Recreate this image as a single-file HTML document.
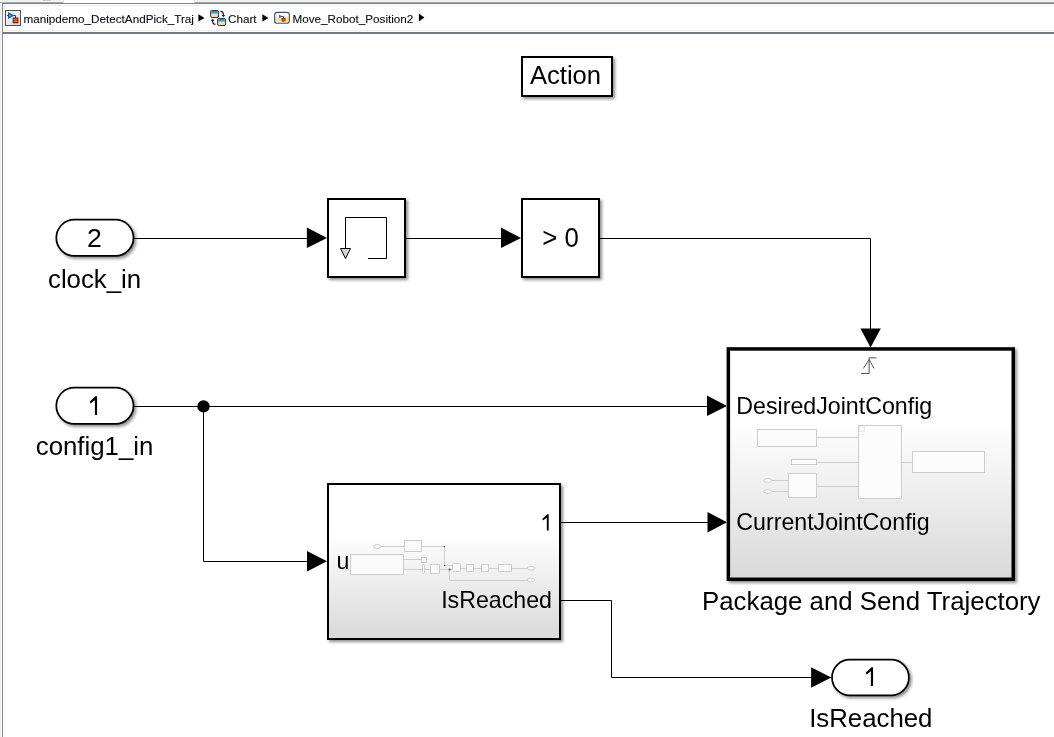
<!DOCTYPE html>
<html><head><meta charset="utf-8">
<style>
html,body{margin:0;padding:0;background:#fff;width:1054px;height:737px;overflow:hidden}
body{position:relative;font-family:"Liberation Sans",sans-serif}
svg{position:absolute;left:0;top:0;will-change:transform}
</style></head>
<body>
<svg width="1054" height="737" viewBox="0 0 1054 737" font-family="Liberation Sans, sans-serif">
<defs>
  <filter id="sh" x="-10%" y="-10%" width="130%" height="130%">
    <feDropShadow dx="2" dy="2" stdDeviation="1.6" flood-color="#000" flood-opacity="0.44"/>
  </filter>
  <linearGradient id="g1" x1="0" y1="0" x2="0" y2="1">
    <stop offset="0" stop-color="#ffffff"/>
    <stop offset="0.31" stop-color="#ffffff"/>
    <stop offset="1" stop-color="#d9d9d9"/>
  </linearGradient>
</defs>
<!-- window chrome -->
<rect x="0" y="0" width="1054" height="1" fill="#efefef"/>
<rect x="0" y="1" width="1054" height="1" fill="#f4f4f4"/>
<rect x="0" y="2" width="1054" height="1" fill="#a6a6a6"/>
<rect x="64" y="0" width="130" height="3" fill="#ffffff"/>
<rect x="63" y="0" width="1" height="3" fill="#dedede"/>
<rect x="194" y="0" width="1" height="3" fill="#dedede"/>
<rect x="43" y="0" width="8" height="1" fill="#c3cbd6"/>
<rect x="2" y="3" width="1052" height="1" fill="#7b8089"/>
<rect x="0" y="3" width="1" height="734" fill="#f0f0f0"/>
<rect x="1" y="3" width="1" height="734" fill="#f6f6f6"/>
<rect x="2" y="3" width="1" height="734" fill="#858a94"/>
<rect x="4" y="5" width="1050" height="1" fill="#eeeeee"/>
<rect x="4" y="5" width="1" height="26" fill="#eeeeee"/>
<rect x="4" y="30" width="1050" height="1" fill="#eeeeee"/>
<rect x="3" y="32" width="1051" height="2" fill="#737884"/>

<!-- breadcrumb -->
<g id="bc">
<rect x="4" y="6" width="1" height="24" fill="#ececec"/>
<g font-size="11.7" fill="#0a0a1a" stroke="#0a0a1a" stroke-width="0.1">
  <text x="23.5" y="22.5">manipdemo_DetectAndPick_Traj</text>
  <text x="228" y="22.5">Chart</text>
  <text x="292.5" y="22.5">Move_Robot_Position2</text>
</g>
<path d="M198.4 14.2 L204.6 17.9 L198.4 21.6 Z" fill="#000"/>
<path d="M262.4 14.2 L268.4 17.9 L262.4 21.6 Z" fill="#000"/>
<path d="M418.9 13.6 L424.4 17.5 L418.9 21.4 Z" fill="#000"/>
<defs>
  <linearGradient id="ic1" x1="0" y1="0" x2="1" y2="1"><stop offset="0" stop-color="#ffffff"/><stop offset="1" stop-color="#d6d6d6"/></linearGradient>
  <linearGradient id="ic3" x1="0" y1="0" x2="0" y2="1"><stop offset="0" stop-color="#ffffff"/><stop offset="0.25" stop-color="#fffdf5"/><stop offset="0.6" stop-color="#f2d98a"/><stop offset="1" stop-color="#fff6d8"/></linearGradient>
</defs>
<!-- model icon -->
<rect x="5.5" y="10.5" width="15" height="15" fill="url(#ic1)" stroke="#505050" stroke-width="1"/>
<path d="M7 15.5 H8.5" stroke="#555" stroke-width="1"/>
<path d="M13.5 15.5 H15.5 V18.5" stroke="#3a3a3a" stroke-width="1" fill="none"/>
<path d="M8 12 L14.3 15.5 L8 19 Z" fill="#1a5cb8"/>
<path d="M9.2 14.2 L11.8 15.5 L9.2 16.8 Z" fill="#4aa8e0"/>
<rect x="13.1" y="18" width="4.8" height="4.8" fill="#d9601c" stroke="#6e0a0a" stroke-width="0.9"/>
<!-- chart icon -->
<g stroke="#2e2e2e" stroke-width="1">
  <rect x="210.6" y="10.5" width="8" height="7" rx="1.6" fill="#f0ddb0"/>
  <rect x="217.6" y="18.5" width="8" height="7" rx="1.6" fill="#f0ddb0"/>
</g>
<rect x="211.2" y="11.1" width="6.8" height="2.4" rx="1" fill="#2a9ad8"/>
<rect x="218.2" y="19.1" width="6.8" height="2.4" rx="1" fill="#2a9ad8"/>
<g stroke="#1a1a1a" stroke-width="1.2" fill="none">
  <path d="M220.3 11.4 Q223.4 11.4 223.4 15"/>
  <path d="M215.4 24.4 Q212.6 24.4 212.6 21"/>
</g>
<path d="M221.5 15 L225.3 15 L223.4 17.2 Z" fill="#1a1a1a"/>
<path d="M210.7 21 L214.5 21 L212.6 18.8 Z" fill="#1a1a1a"/>
<!-- state icon -->
<rect x="274.6" y="12.4" width="14.8" height="10.9" rx="2.6" fill="url(#ic3)" stroke="#3d5577" stroke-width="1.1"/>
<path d="M281.5 16.4 H283.5 V18.6" stroke="#333" stroke-width="0.9" fill="none"/>
<path d="M279 14.8 L282.5 16.4 L279 18 Z" fill="#1e6cc8"/>
<rect x="282" y="18.3" width="3" height="2.8" fill="#e07020" stroke="#8a1a0a" stroke-width="0.8"/>
</g>

<!-- signal lines -->
<g stroke="#000" stroke-width="1" fill="none">
  <path d="M134 238.5 H308"/>
  <path d="M406 238.5 H502"/>
  <path d="M600 238.5 H870.5 V330"/>
  <path d="M134 406.5 H708"/>
  <path d="M203.5 406.5 V561.5 H308"/>
  <path d="M561 522.5 H708"/>
  <path d="M561 600.5 H611.5 V677.5 H812"/>
</g>
<g fill="#000">
  <path d="M306.9 227.6 L327 237.9 L306.9 248.1 Z"/>
  <path d="M501 227.6 L521 237.9 L501 248.1 Z"/>
  <path d="M860.4 328.5 L880.8 328.5 L870.6 347.6 Z"/>
  <path d="M707 395.6 L727 405.9 L707 416.1 Z"/>
  <path d="M307 550.9 L327 561.2 L307 571.4 Z"/>
  <path d="M707.5 511.9 L727 522.2 L707.5 532.4 Z"/>
  <path d="M811.1 667.3 L831.3 677.5 L811.1 687.7 Z"/>
  <circle cx="203.5" cy="406.4" r="6.2"/>
</g>

<!-- Action box -->
<rect x="522" y="57" width="90" height="39" fill="#fff" stroke="#000" stroke-width="2" filter="url(#sh)"/>
<text x="565.5" y="84" font-size="25.6" text-anchor="middle">Action</text>

<!-- inports -->
<rect x="56.3" y="219.7" width="77.2" height="36.2" rx="18.1" fill="#fff" stroke="#000" stroke-width="1.75" filter="url(#sh)"/>
<text x="94.3" y="246.8" font-size="26.6" text-anchor="middle">2</text>
<text x="94.6" y="287.5" font-size="25.8" text-anchor="middle">clock_in</text>

<rect x="56.3" y="387.7" width="77.2" height="36.2" rx="18.1" fill="#fff" stroke="#000" stroke-width="1.75" filter="url(#sh)"/>
<path d="M97.05 396.20 V414.90 H94.90 V400.20 L90.45 403.50 L89.85 401.60 L95.45 396.20 Z" fill="#000"/>
<text x="94.6" y="454.7" font-size="25.8" text-anchor="middle">config1_in</text>

<!-- memory block -->
<rect x="328" y="199" width="77" height="78" fill="#fff" stroke="#000" stroke-width="2" filter="url(#sh)"/>
<g stroke="#000" stroke-width="1" fill="none">
  <path d="M345.5 249 V217.5 H386.5 V258.5 H368"/>
</g>
<path d="M340.5 248.5 H350.5 L345.5 258.5 Z" fill="#d4d4d4" stroke="#000" stroke-width="1"/>

<!-- compare block -->
<rect x="522" y="199" width="77" height="78" fill="#fff" stroke="#000" stroke-width="2" filter="url(#sh)"/>
<text x="560.5" y="247" font-size="25.8" text-anchor="middle" transform="translate(0,247) scale(1,1.05) translate(0,-247)">&gt; 0</text>

<!-- subsystem 1 -->
<rect x="728.35" y="348.95" width="284.9" height="230.3" fill="url(#g1)" stroke="#000" stroke-width="3.5" filter="url(#sh)"/>
<g id="thumb1" stroke="#cdcdcd" stroke-width="1" fill="none">
  <path d="M816.5 437.5 H858.5 M816.5 462.5 H858.5 M816.5 486.5 H858.5 M772 480.5 H788.5 M772 491.5 H788.5 M901.5 462.5 H912.5"/>
  <g fill="#fcfcfc">
  <rect x="757.5" y="429.5" width="59" height="17"/>
  <rect x="858.5" y="425.5" width="43" height="73"/>
  <rect x="791.5" y="459.5" width="25" height="5"/>
  <rect x="788.5" y="473.5" width="28" height="24"/>
  <rect x="912.5" y="451.5" width="72" height="21"/>
  <ellipse cx="767.7" cy="480.5" rx="4" ry="1.9"/>
  <ellipse cx="767.7" cy="491.5" rx="4" ry="1.9"/>
  </g>
  <rect x="859.5" y="426.5" width="5" height="5" stroke="#ececec"/>
</g>
<path d="M861 373.5 H869.1 V357.9 H876.5 M863.4 368.5 L869.1 359.5 L874 368.5" stroke="#555" stroke-width="1" fill="none"/>
<g font-size="23.2">
  <text x="736.3" y="413.7">DesiredJointConfig</text>
  <text x="736.3" y="530.3">CurrentJointConfig</text>
</g>
<text x="871.25" y="609.9" font-size="25.8" text-anchor="middle">Package and Send Trajectory</text>

<!-- subsystem 2 -->
<rect x="328" y="484" width="232" height="155" fill="url(#g1)" stroke="#000" stroke-width="2" filter="url(#sh)"/>
<g id="thumb2" stroke="#cdcdcd" stroke-width="1" fill="none">
  <path d="M381 546.5 H404.5 M421.5 546.5 H444.5 V565.5 H452.5 M403.5 559.5 H421.5 M403.5 569.5 H422.5 M424.5 569.5 H430.5 M439.5 569.5 H452.5 M449.5 569.5 V580.5 H527 M460.5 568.5 H466.5 M473.5 568.5 H481.5 M488.5 568.5 H498.5 M511.5 568.5 H527.2"/>
  <g fill="#fafafa">
  <ellipse cx="377.1" cy="546.5" rx="3.8" ry="2"/>
  <rect x="404.5" y="540.5" width="17" height="11"/>
  <rect x="350.5" y="554.5" width="53" height="20"/>
  <rect x="421.5" y="557.5" width="5" height="5"/>
  <rect x="422.5" y="564.5" width="2" height="9" rx="1"/>
  <rect x="430.5" y="564.5" width="9" height="9"/>
  <rect x="452.5" y="563.5" width="8" height="8" rx="1"/>
  <rect x="466.5" y="564.5" width="7" height="7"/>
  <rect x="481.5" y="564.5" width="7" height="7"/>
  <rect x="498.5" y="564.5" width="13" height="7"/>
  <ellipse cx="531" cy="568.2" rx="3.8" ry="1.8"/>
  <ellipse cx="531" cy="580" rx="3.8" ry="1.8"/>
  </g>
  <g fill="#555" stroke="none">
  <circle cx="444.5" cy="546.5" r="0.7"/>
  <circle cx="444.5" cy="565.5" r="0.7"/>
  <circle cx="449.5" cy="569.5" r="1.1"/>
  </g>
</g>
<g font-size="23.2">
  <text x="336.5" y="569.4">u</text>
  <path d="M548.70 514.20 V530.60 H546.81 V517.72 L542.89 520.62 L542.36 518.95 L547.29 514.20 Z" fill="#000"/>
  <text x="552" y="607.8" text-anchor="end">IsReached</text>
</g>

<!-- outport -->
<rect x="832" y="659.7" width="76.9" height="35.6" rx="17.8" fill="#fff" stroke="#000" stroke-width="1.75" filter="url(#sh)"/>
<path d="M873.05 667.20 V685.90 H870.90 V671.20 L866.45 674.50 L865.85 672.60 L871.45 667.20 Z" fill="#000"/>
<text x="870.8" y="726.8" font-size="25.8" text-anchor="middle">IsReached</text>
</svg>
</body></html>
